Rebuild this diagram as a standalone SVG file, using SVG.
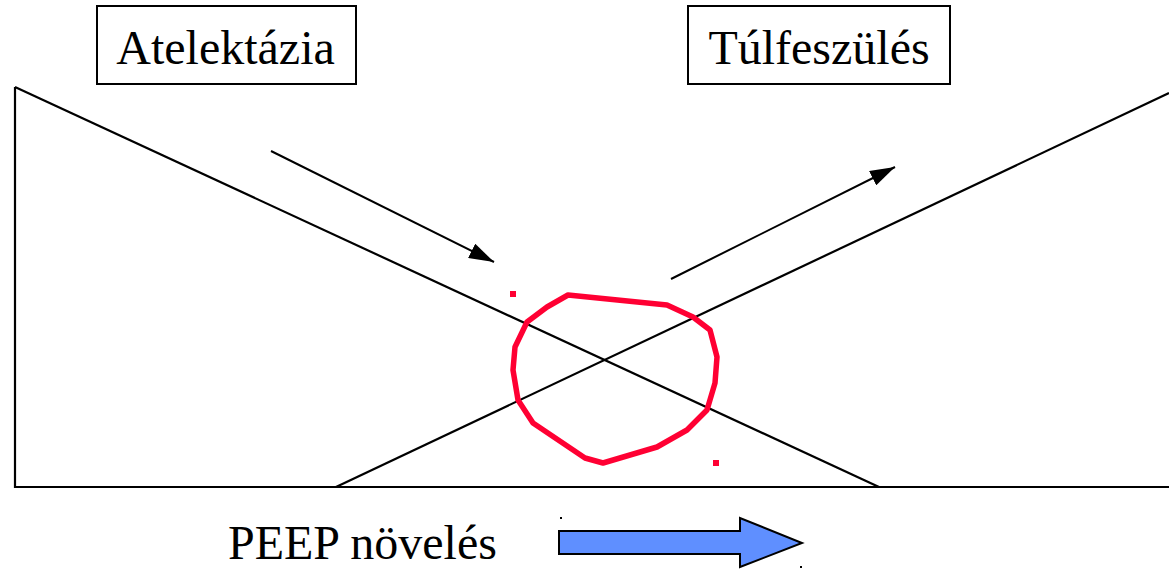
<svg xmlns="http://www.w3.org/2000/svg" width="1169" height="570" viewBox="0 0 1169 570">
  <style>
    .label { font-family: "Liberation Serif", "Times New Roman", serif; font-size: 48px; fill: #000; }
    .box { fill: #fff; stroke: #000; stroke-width: 2; }
    .axis { fill: none; stroke: #000; stroke-width: 2.2; }
    .trend { fill: none; stroke: #000; stroke-width: 2; }
    .loop { fill: none; stroke: #ff0033; stroke-width: 5.5; stroke-linejoin: round; }
    .dot { fill: #ff0033; }
    .peep { fill: #5f8fff; stroke: #000; stroke-width: 2; stroke-linejoin: miter; }
  </style>
  <defs>
    <marker id="head" viewBox="0 0 25 16" refX="25" refY="8" markerWidth="25" markerHeight="16" markerUnits="userSpaceOnUse" orient="auto">
      <path d="M0,0 L25,8 L0,16 z" fill="#000"/>
    </marker>
  </defs>

  <rect width="1169" height="570" fill="#fff"/>

  <!-- frame and the two crossing curves -->
  <g id="chart">
    <polyline class="axis" points="15,87 15,487 1169,487"/>
    <line class="axis" x1="15" y1="87" x2="879" y2="487"/>
    <line class="axis" x1="336" y1="487" x2="1169" y2="93"/>
  </g>

  <!-- title boxes -->
  <g id="atelektazia">
    <rect class="box" x="97" y="6" width="259" height="78"/>
    <text class="label" x="225.5" y="64" text-anchor="middle">Atelektázia</text>
  </g>
  <g id="tulfeszules">
    <rect class="box" x="688" y="6" width="262" height="78"/>
    <text class="label" x="819" y="64" text-anchor="middle">Túlfeszülés</text>
  </g>

  <!-- direction arrows -->
  <g id="connectors">
    <line class="trend" x1="271" y1="151" x2="494" y2="262" marker-end="url(#head)"/>
    <line class="trend" x1="671" y1="279" x2="895" y2="167" marker-end="url(#head)"/>
  </g>

  <!-- optimum zone around the crossing -->
  <g id="optimum">
    <path class="loop" d="M568,295 L667,305 L693,317 L710,330 L717,357 L715,383 L707,410 L687,430 L657,447 L603,463 L585,458 L533,423 L518,400 L513,370 L515,347 L527,322 L547,307 Z"/>
    <rect class="dot" x="510" y="291" width="6" height="6"/>
    <rect class="dot" x="713" y="460" width="6" height="6"/>
  </g>

  <!-- PEEP increase -->
  <g id="peep">
    <text class="label" x="228" y="559">PEEP növelés</text>
    <path class="peep" d="M559,531 L740,531 L740,518 L802,543 L740,567 L740,554 L559,554 Z"/>
    <rect x="560" y="517" width="2" height="2" fill="#000"/>
    <rect x="800" y="566" width="2" height="2" fill="#000"/>
  </g>
</svg>
